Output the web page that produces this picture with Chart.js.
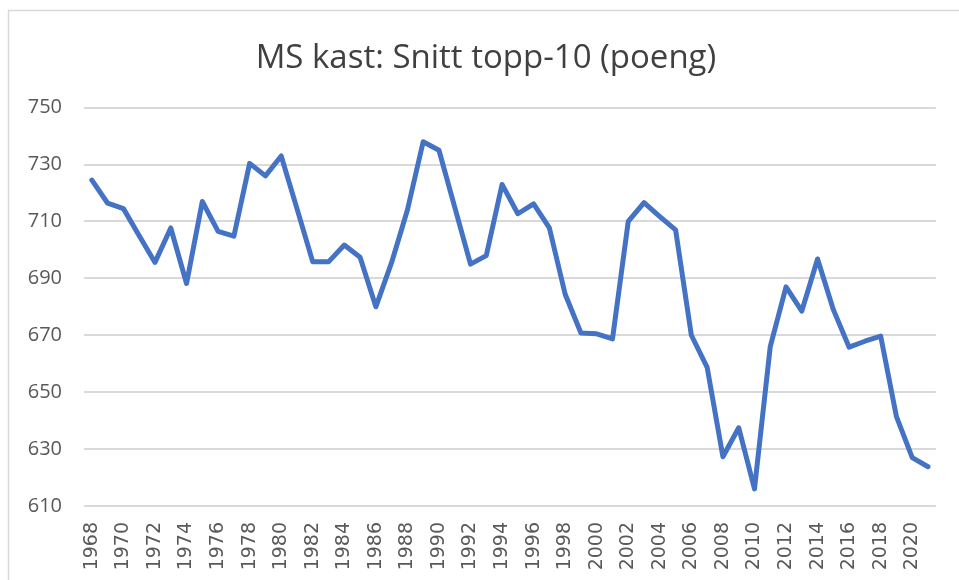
<!DOCTYPE html>
<html>
<head>
<meta charset="utf-8">
<title>MS kast: Snitt topp-10</title>
<script src="https://cdn.jsdelivr.net/npm/chart.js@4"></script>
<style>
    html, body { margin: 0; padding: 0; background: #fff; }
    #wrap { width: 959px; height: 580px; position: relative; }
</style>
</head>
<body>
<div id="wrap">
    <canvas id="snittChart" width="959" height="580"></canvas>
</div>
<script>
// ============================================
// MS KAST - SNITT TOPP-10 (POENG)
// ============================================

const years = [
    '1968', '1969', '1970', '1971', '1972', '1973', '1974', '1975', '1976', '1977',
    '1978', '1979', '1980', '1981', '1982', '1983', '1984', '1985', '1986', '1987',
    '1988', '1989', '1990', '1991', '1992', '1993', '1994', '1995', '1996', '1997',
    '1998', '1999', '2000', '2001', '2002', '2003', '2004', '2005', '2006', '2007',
    '2008', '2009', '2010', '2011', '2012', '2013', '2014', '2015', '2016', '2017',
    '2018', '2019', '2020', '2021'
];

const snittPoeng = [
    724.5, 716.4, 714.5, 705, 695.6, 707.7, 688.2, 717, 706.5, 704.8,
    730.4, 726, 733, 714.5, 695.8, 695.8, 701.7, 697.4, 680, 695.6,
    714, 738, 735, 715, 695, 698, 723, 712.7, 716.2, 707.7,
    684.4, 670.8, 670.5, 668.7, 710, 716.6, 711.7, 707, 670, 658.7,
    627.3, 637.5, 616, 666, 687, 678.5, 696.8, 679, 665.8, 667.9,
    669.7, 641.4, 627, 623.8
];

const yTicks = [610, 630, 650, 670, 690, 710, 730, 750];

// grå ramme rundt diagrammet (beskåret til høyre/nede som i bildet)
const frameBorder = {
    id: 'frameBorder',
    beforeDraw(chart) {
        const ctx = chart.ctx;
        ctx.save();
        ctx.strokeStyle = '#d9d9d9';
        ctx.lineWidth = 1.5;
        ctx.strokeRect(8.5, 10.5, 1200, 1000);
        ctx.restore();
    }
};

// flytt tittelen litt mot høyre, sentrert over plottet
const titleShift = {
    id: 'titleShift',
    afterLayout(chart) {
        if (!chart.titleBlock) return;
        chart.titleBlock.left = 36;
        chart.titleBlock.right = chart.chartArea.right;
    }
};

document.addEventListener('DOMContentLoaded', function() {
    const ctx = document.getElementById('snittChart').getContext('2d');

    new Chart(ctx, {
        type: 'line',
        data: {
            labels: years,
            datasets: [{
                label: 'Snitt topp-10',
                data: snittPoeng,
                borderColor: '#4472c4',
                backgroundColor: '#4472c4',
                borderWidth: 5,
                borderCapStyle: 'round',
                borderJoinStyle: 'round',
                pointRadius: 0,
                tension: 0,
                fill: false
            }]
        },
        options: {
            responsive: false,
            animation: false,
            layout: { padding: { left: 0, right: 20, top: 0, bottom: 0 } },
            plugins: {
                legend: { display: false },
                tooltip: { enabled: false },
                title: {
                    display: true,
                    text: 'MS kast: Snitt topp-10 (poeng)',
                    color: '#404040',
                    font: { family: '"Open Sans"', size: 33, weight: 'normal' },
                    padding: { top: 39, bottom: 29 }
                }
            },
            scales: {
                x: {
                    offset: true,
                    grid: { display: false },
                    border: { display: false },
                    afterFit: function(scale) { scale.height = 74; },
                    ticks: {
                        autoSkip: false,
                        maxRotation: 90,
                        minRotation: 90,
                        padding: 8,
                        color: '#595959',
                        font: { family: '"DejaVu Sans"', size: 19 },
                        callback: function(val, i) {
                            return i % 2 === 0 ? years[i] : '';
                        }
                    }
                },
                y: {
                    min: 610,
                    max: 750,
                    afterFit: function(scale) { scale.width = 84; },
                    afterBuildTicks: function(scale) {
                        scale.ticks = yTicks.map(v => ({ value: v }));
                    },
                    grid: { color: '#d9d9d9', lineWidth: 2, drawTicks: false },
                    border: { display: false },
                    ticks: {
                        padding: 22,
                        color: '#595959',
                        font: { family: '"Open Sans"', size: 20 }
                    }
                }
            }
        },
        plugins: [frameBorder, titleShift]
    });
});
</script>
</body>
</html>
